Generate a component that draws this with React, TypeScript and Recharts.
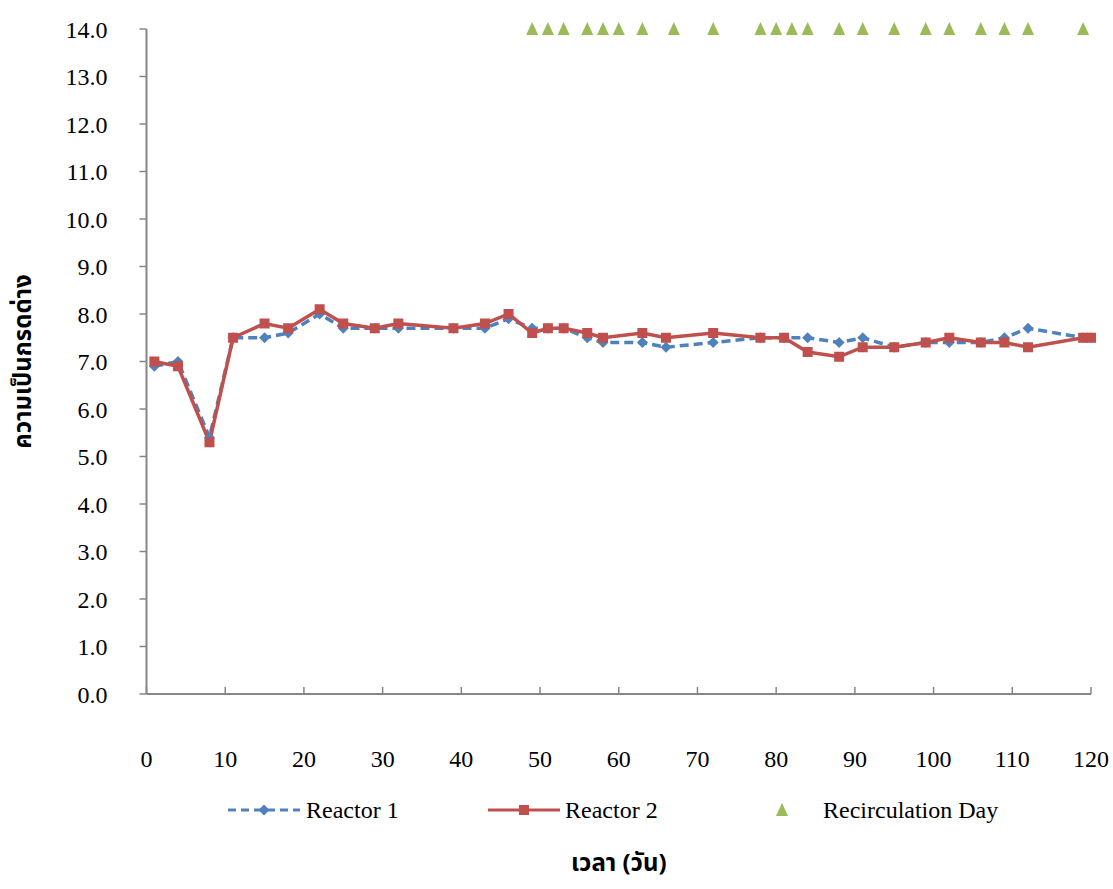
import React from 'react';
import {
  ComposedChart,
  Line,
  Scatter,
  XAxis,
  YAxis,
  Legend,
} from 'recharts';

// sampling days (shared by both reactors)
const days = [
  1, 4, 8, 11, 15, 18, 22, 25, 29, 32, 39, 43, 46, 49, 51, 53, 56, 58, 63, 66,
  72, 78, 81, 84, 88, 91, 95, 99, 102, 106, 109, 112, 119, 120,
];

const reactor1 = [
  6.9, 7.0, 5.4, 7.5, 7.5, 7.6, 8.0, 7.7, 7.7, 7.7, 7.7, 7.7, 7.9, 7.7, 7.7, 7.7, 7.5, 7.4, 7.4, 7.3,
  7.4, 7.5, 7.5, 7.5, 7.4, 7.5, 7.3, 7.4, 7.4, 7.4, 7.5, 7.7, 7.5, 7.5,
];

const reactor2 = [
  7.0, 6.9, 5.3, 7.5, 7.8, 7.7, 8.1, 7.8, 7.7, 7.8, 7.7, 7.8, 8.0, 7.6, 7.7, 7.7, 7.6, 7.5, 7.6, 7.5,
  7.6, 7.5, 7.5, 7.2, 7.1, 7.3, 7.3, 7.4, 7.5, 7.4, 7.4, 7.3, 7.5, 7.5,
];

// days on which leachate was recirculated, plotted along the top
const recirculationDays = [
  49, 51, 53, 56, 58, 60, 63, 67, 72, 78, 80, 82, 84, 88, 91, 95, 99, 102, 106, 109, 112, 119,
];
const recirculationLevel = 14;

const xTicks = [0, 10, 20, 30, 40, 50, 60, 70, 80, 90, 100, 110, 120];
const yTicks = [0, 1, 2, 3, 4, 5, 6, 7, 8, 9, 10, 11, 12, 13, 14];

const BLUE = '#4F81BD';
const RED = '#C0504D';
const GREEN = '#9BBB59';
const AXIS = '#868686';
const SERIF = '"Liberation Serif", "Times New Roman", serif';
const THAI = '"Noto Sans Thai", "Tahoma", "Noto Sans", sans-serif';

const rows = days.map((day, i) => ({ day, r1: reactor1[i], r2: reactor2[i] }));
const recRows = recirculationDays.map((day) => ({ day, rec: recirculationLevel }));

function Diamond(props: any) {
  const { cx, cy } = props;
  if (cx == null || cy == null) return null;
  const s = 5.5;
  return (
    <path
      d={`M${cx},${cy - s}L${cx + s},${cy}L${cx},${cy + s}L${cx - s},${cy}Z`}
      fill={BLUE}
    />
  );
}

function Square(props: any) {
  const { cx, cy } = props;
  if (cx == null || cy == null) return null;
  return <rect x={cx - 5} y={cy - 5} width={10} height={10} fill={RED} />;
}

function Triangle(props: any) {
  const { cx, cy } = props;
  if (cx == null || cy == null) return null;
  return (
    <path
      d={`M${cx},${cy - 7}L${cx + 6},${cy + 6}L${cx - 6},${cy + 6}Z`}
      fill={GREEN}
    />
  );
}

function LegendContent() {
  const text: React.CSSProperties = {
    position: 'absolute',
    top: 0,
    fontFamily: SERIF,
    fontSize: 24,
    lineHeight: '30px',
    color: '#000',
  };
  return (
    <div style={{ position: 'relative', width: 1113, height: 30 }}>
      <svg style={{ position: 'absolute', left: 228, top: 0 }} width={72} height={30}>
        <line x1={0} y1={15} x2={72} y2={15} stroke={BLUE} strokeWidth={3} strokeDasharray="8 5" />
        <path d="M36,9.5L41.5,15L36,20.5L30.5,15Z" fill={BLUE} />
      </svg>
      <span style={{ ...text, left: 306 }}>Reactor 1</span>
      <svg style={{ position: 'absolute', left: 488, top: 0 }} width={72} height={30}>
        <line x1={0} y1={15} x2={72} y2={15} stroke={RED} strokeWidth={3} />
        <rect x={31} y={10} width={10} height={10} fill={RED} />
      </svg>
      <span style={{ ...text, left: 565 }}>Reactor 2</span>
      <svg style={{ position: 'absolute', left: 774, top: 0 }} width={16} height={30}>
        <path d="M8,8L14,21L2,21Z" fill={GREEN} />
      </svg>
      <span style={{ ...text, left: 823 }}>Recirculation Day</span>
    </div>
  );
}

export default function App() {
  return (
    <div style={{ position: 'fixed', left: 0, top: 0, background: '#fff' }}>
      <ComposedChart
        width={1113}
        height={889}
        data={rows}
        margin={{ top: 29, right: 22, left: 0, bottom: 0 }}
      >
        <XAxis
          dataKey="day"
          type="number"
          domain={[0, 120]}
          ticks={xTicks}
          height={195}
          axisLine={{ stroke: AXIS, strokeWidth: 2 }}
          tickLine={{ stroke: AXIS, strokeWidth: 1.5 }}
          tickSize={-7}
          tickMargin={63}
          tick={{ fontFamily: SERIF, fontSize: 24, fill: '#000' }}
          label={{
            value: 'เวลา (วัน)',
            position: 'center',
            dy: 71,
            style: { fontFamily: THAI, fontSize: 24, fontWeight: 700, fill: '#000' },
          }}
        />
        <YAxis
          type="number"
          domain={[0, 14]}
          ticks={yTicks}
          width={146.5}
          interval={0}
          axisLine={{ stroke: AXIS, strokeWidth: 2 }}
          tickLine={{ stroke: AXIS, strokeWidth: 1.5 }}
          tickSize={7}
          tickMargin={32}
          tickFormatter={(v: number) => v.toFixed(1)}
          tick={{ fontFamily: SERIF, fontSize: 24, fill: '#000' }}
          label={{
            value: 'ความเป็นกรดด่าง',
            angle: -90,
            position: 'center',
            dx: -51,
            style: { fontFamily: THAI, fontSize: 24, fontWeight: 700, fill: '#000' },
          }}
        />
        <Legend
          verticalAlign="middle"
          align="center"
          layout="horizontal"
          content={<LegendContent />}
          wrapperStyle={{ top: 795, left: 0, width: 1113 }}
        />
        <Line
          dataKey="r1"
          name="Reactor 1"
          stroke={BLUE}
          strokeWidth={3.5}
          strokeDasharray="9 5"
          dot={<Diamond />}
          activeDot={false}
          isAnimationActive={false}
        />
        <Line
          dataKey="r2"
          name="Reactor 2"
          stroke={RED}
          strokeWidth={3.5}
          dot={<Square />}
          activeDot={false}
          isAnimationActive={false}
        />
        <Scatter
          data={recRows}
          dataKey="rec"
          name="Recirculation Day"
          shape={<Triangle />}
          isAnimationActive={false}
        />
      </ComposedChart>
    </div>
  );
}
